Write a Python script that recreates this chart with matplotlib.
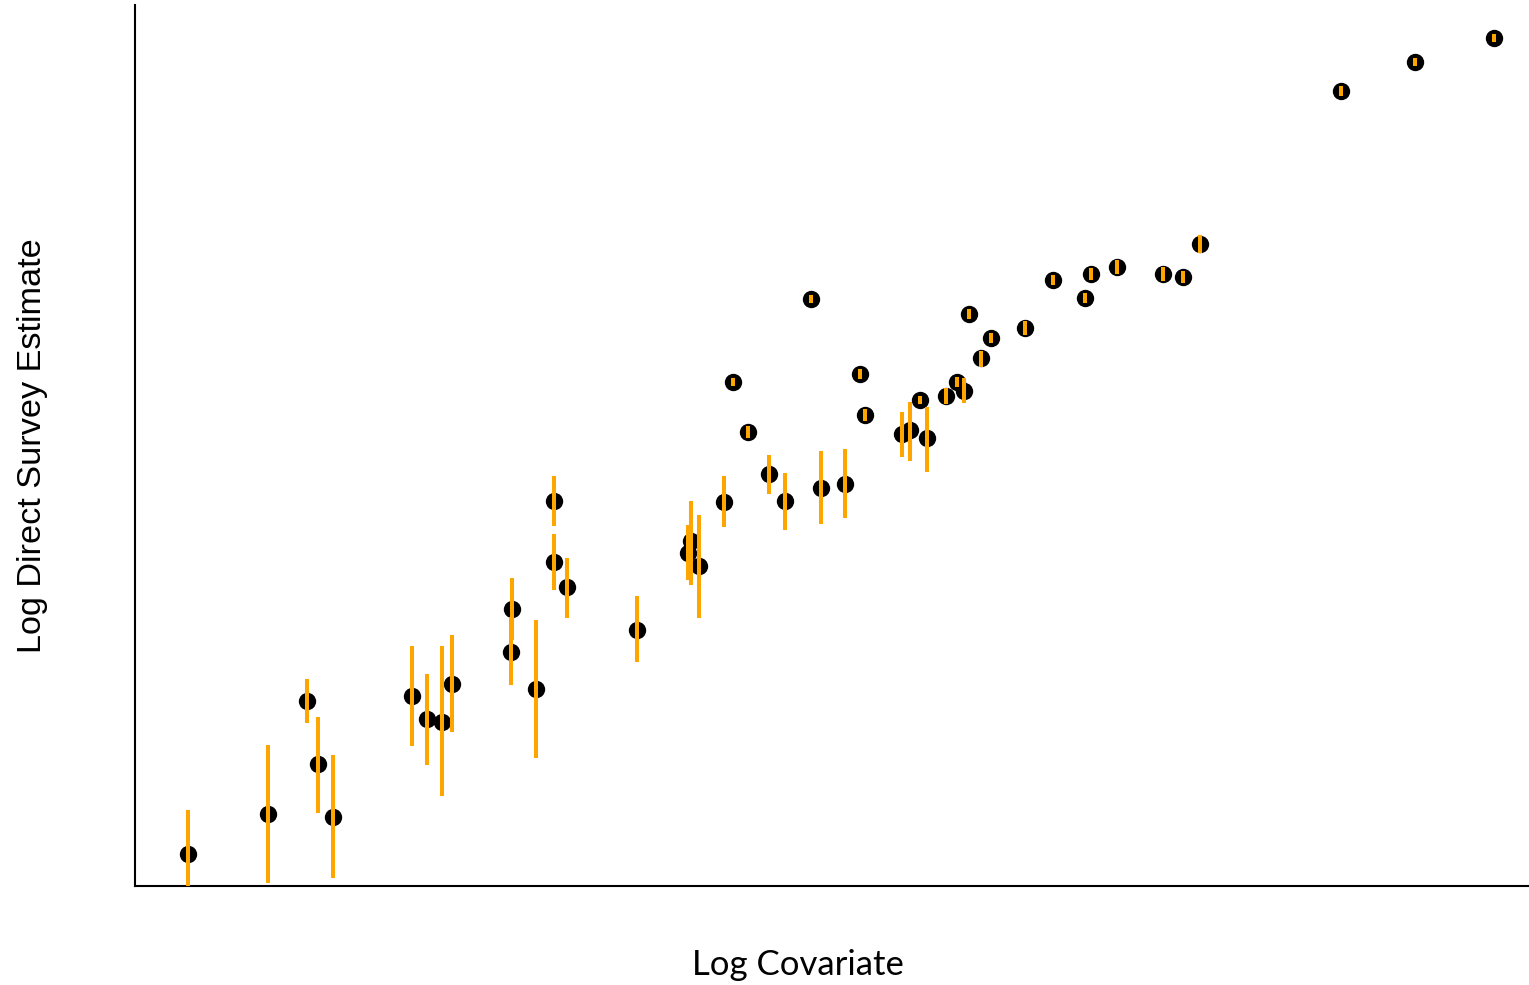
import matplotlib
matplotlib.use("Agg")
import matplotlib.pyplot as plt
import numpy as np

# Log covariate (x) and log direct survey estimate (y) with interval bounds
log_covariate = [
    0.53, 1.34, 1.73, 1.84, 1.99, 2.78, 2.93, 3.09, 3.19, 3.79,
    3.78, 4.03, 4.21, 4.21, 4.34, 5.05, 5.56, 5.59, 5.67, 5.92,
    6.37, 6.53, 6.89, 7.14, 7.71, 7.79, 7.96, 7.89, 8.15, 8.26,
    8.33, 8.50, 6.79, 6.01, 6.16, 7.29, 7.34, 8.38, 8.60, 8.94,
    9.23, 9.55, 9.61, 9.87, 10.33, 10.53, 10.70, 12.12, 12.86, 13.66,
]
log_estimate = [
    0.32, 0.72, 1.85, 1.22, 0.69, 1.90, 1.67, 1.64, 2.02, 2.77,
    2.34, 1.97, 3.85, 3.24, 2.99, 2.56, 3.33, 3.45, 3.20, 3.84,
    4.12, 3.85, 3.98, 4.02, 4.51, 4.55, 4.47, 4.85, 4.89, 5.03,
    4.94, 5.27, 5.86, 5.03, 4.53, 5.11, 4.70, 5.71, 5.47, 5.57,
    6.05, 5.87, 6.11, 6.18, 6.11, 6.08, 6.41, 7.94, 8.23, 8.47,
]
lower_bound = [
    -0.12, 0.03, 1.63, 0.73, 0.08, 1.40, 1.21, 0.90, 1.54, 2.46,
    2.01, 1.28, 3.60, 2.96, 2.68, 2.24, 3.06, 3.01, 2.68, 3.59,
    3.92, 3.56, 3.62, 3.68, 4.29, 4.25, 4.14, 4.81, 4.81, 4.98,
    4.82, 5.18, 5.82, 4.99, 4.47, 5.06, 4.64, 5.66, 5.42, 5.50,
    6.00, 5.82, 6.05, 6.11, 6.04, 6.02, 6.32, 7.89, 8.19, 8.43,
]
upper_bound = [
    0.76, 1.41, 2.07, 1.69, 1.31, 2.40, 2.12, 2.40, 2.51, 3.08,
    2.69, 2.66, 4.10, 3.52, 3.28, 2.90, 3.61, 3.85, 3.71, 4.10,
    4.31, 4.13, 4.35, 4.37, 4.73, 4.83, 4.78, 4.89, 4.97, 5.08,
    5.07, 5.34, 5.90, 5.07, 4.59, 5.16, 4.76, 5.76, 5.52, 5.64,
    6.10, 5.92, 6.17, 6.25, 6.18, 6.14, 6.50, 7.99, 8.27, 8.51,
]

x = np.array(log_covariate)
y = np.array(log_estimate)
yerr = np.vstack([y - np.array(lower_bound), np.array(upper_bound) - y])

fig = plt.figure(figsize=(15.29, 9.85), dpi=100)
ax = fig.add_axes([135 / 1529, 99 / 985, 1393 / 1529, 881 / 985])

ax.plot(x, y, linestyle="none", marker="o", markersize=12.5,
        color="black", markeredgewidth=0, zorder=2)
ax.errorbar(x, y, yerr=yerr, fmt="none", ecolor="#FFA500",
            elinewidth=2.9, capsize=0, zorder=3)

ax.set_xlim(0, 14.0)
ax.set_ylim(0, 8.8)
ax.set_xticks([])
ax.set_yticks([])
for side in ("top", "right"):
    ax.spines[side].set_visible(False)
for side in ("left", "bottom"):
    ax.spines[side].set_linewidth(1.5)
    ax.spines[side].set_color("black")

fig.text(798 / 1529, 10 / 985, "Log Covariate", family="Lato",
         fontsize=25, ha="center", va="baseline")
fig.text(33 / 1529, 539 / 985, "Log Direct Survey Estimate",
         family="Liberation Sans", fontsize=24.7, rotation=90,
         ha="center", va="center")

fig.savefig("out.png", dpi=100, facecolor="white")
